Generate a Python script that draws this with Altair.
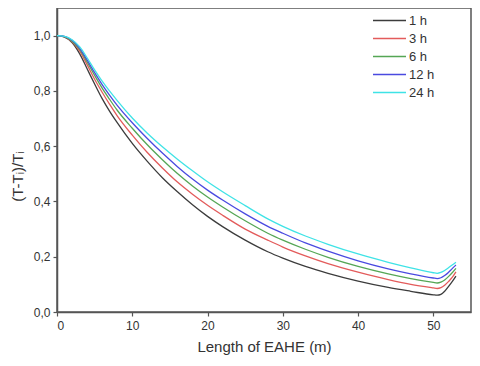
import altair as alt
import pandas as pd

# Length of EAHE (m)
length_m = [0, 1, 2, 3, 4, 5, 6, 7, 8, 10, 12, 14, 16, 18, 20, 22, 25, 28, 30, 33, 36, 40,
            44, 47, 50, 50.5, 51, 51.5, 52, 52.5, 53]

series_names = ["1 h", "3 h", "6 h", "12 h", "24 h"]
series_colors = ["#3c3c3c", "#e35b5b", "#55a655", "#4a4ae0", "#3fe3e6"]

h1 = [1.0, 0.995, 0.975, 0.935, 0.88, 0.825, 0.772, 0.726, 0.685, 0.61, 0.545, 0.486, 0.435, 0.388,
      0.346, 0.309, 0.26, 0.218, 0.195, 0.165, 0.14, 0.112, 0.089, 0.075, 0.062, 0.061, 0.064,
      0.075, 0.092, 0.11, 0.13]
h3 = [1.0, 0.996, 0.978, 0.945, 0.895, 0.842, 0.795, 0.751, 0.71, 0.64, 0.577, 0.521, 0.47, 0.426,
      0.386, 0.35, 0.30, 0.26, 0.235, 0.203, 0.175, 0.144, 0.117, 0.10, 0.087, 0.085, 0.088,
      0.097, 0.11, 0.125, 0.145]
h6 = [1.0, 0.996, 0.98, 0.95, 0.905, 0.856, 0.81, 0.769, 0.73, 0.665, 0.605, 0.551, 0.501, 0.456,
      0.416, 0.38, 0.33, 0.285, 0.26, 0.227, 0.198, 0.165, 0.138, 0.121, 0.107, 0.105, 0.108,
      0.116, 0.128, 0.142, 0.158]
h12 = [1.0, 0.997, 0.983, 0.955, 0.912, 0.866, 0.823, 0.784, 0.748, 0.685, 0.628, 0.575, 0.526,
       0.481, 0.441, 0.405, 0.355, 0.31, 0.285, 0.25, 0.22, 0.185, 0.156, 0.138, 0.123, 0.121,
       0.124, 0.132, 0.143, 0.157, 0.17]
h24 = [1.0, 0.997, 0.985, 0.96, 0.92, 0.876, 0.835, 0.799, 0.765, 0.702, 0.647, 0.598, 0.553, 0.511,
       0.471, 0.435, 0.385, 0.337, 0.31, 0.275, 0.245, 0.21, 0.18, 0.16, 0.142, 0.14, 0.143,
       0.15, 0.16, 0.17, 0.18]

x_ticks = [0, 5, 10, 15, 20, 25, 30, 35, 40, 45, 50, 55]
y_ticks = [0.0, 0.1, 0.2, 0.3, 0.4, 0.5, 0.6, 0.7, 0.8, 0.9, 1.0, 1.1]
x_domain = [0, 55]
y_domain = [0, 1.1]

rows = []
for name, vals in zip(series_names, [h1, h3, h6, h12, h24]):
    for xv, yv in zip(length_m, vals):
        rows.append({"x": xv, "y": yv, "series": name})
df = pd.DataFrame(rows)

font = "Liberation Sans"

xs = alt.Scale(domain=x_domain, nice=False, zero=False)
ys = alt.Scale(domain=y_domain, nice=False)

lines = alt.Chart(df).mark_line(strokeWidth=1.3, interpolate="monotone").encode(
    x=alt.X("x:Q", scale=xs,
            axis=alt.Axis(title="Length of EAHE (m)", values=x_ticks,
                          labelExpr="datum.value % 10 == 0 ? datum.label : ''",
                          grid=False, tickSize=4, labelPadding=4, titlePadding=8)),
    y=alt.Y("y:Q", scale=ys,
            axis=alt.Axis(title="(T-Tᵢ)/Tᵢ", values=y_ticks, titleY=168,
                          labelExpr="round(datum.value*10) % 2 == 0 ? replace(format(datum.value, '.1f'), '.', ',') : ''",
                          grid=False, tickSize=4, labelPadding=3, titlePadding=8)),
    color=alt.Color("series:N", sort=series_names,
                    scale=alt.Scale(domain=series_names, range=series_colors),
                    legend=alt.Legend(title=None, orient="none", legendX=326, legendY=6,
                                      symbolType="M-3,0H3", symbolSize=121,
                                      symbolStrokeWidth=1.3, labelOffset=13,
                                      labelFontSize=13, rowPadding=4, padding=0)),
)

frame = alt.Chart(pd.DataFrame({"x0": [x_domain[0]], "x1": [x_domain[1]],
                                "y0": [y_domain[0]], "y1": [y_domain[1]]})).mark_rect(
    filled=False, stroke="#555555", strokeWidth=1.5
).encode(
    x=alt.X("x0:Q", scale=xs), x2="x1:Q",
    y=alt.Y("y0:Q", scale=ys), y2="y1:Q",
)

chart = alt.layer(frame, lines).properties(
    width=414, height=304,
    padding={"left": 49, "top": 0, "right": 1, "bottom": 46},
    autosize=alt.AutoSizeParams(type="none"),
).configure_view(
    stroke=None
).configure_axis(
    labelFont=font, titleFont=font, labelFontSize=12, titleFontSize=15,
    titleFontWeight="normal", labelColor="#333333", titleColor="#333333",
    domainColor="#555555", tickColor="#555555", domainWidth=1.5, tickWidth=1.2
).configure_legend(
    labelFont=font, labelColor="#333333"
)

chart.save("out.html", embed_options={"renderer": "svg", "actions": False})
